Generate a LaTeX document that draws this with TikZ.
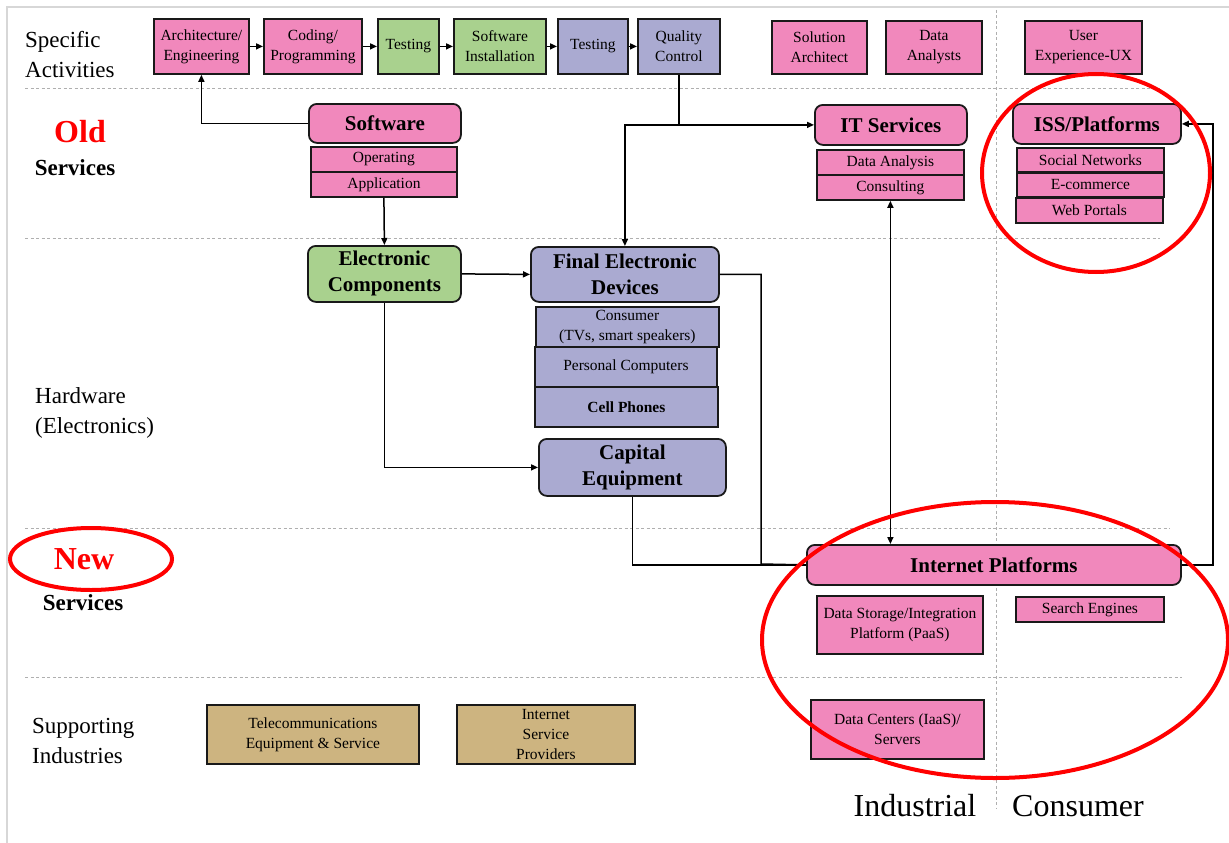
\documentclass[tikz,border=0pt]{standalone}
\usepackage{fontspec}
\setmainfont{Liberation Serif}
\usetikzlibrary{arrows.meta}
\definecolor{boxpink}{RGB}{241,136,188}
\definecolor{boxgreen}{RGB}{169,209,142}
\definecolor{boxpurple}{RGB}{170,170,209}
\definecolor{boxtan}{RGB}{205,180,128}
\definecolor{markred}{RGB}{255,0,0}
\definecolor{sepgray}{RGB}{175,175,175}
\definecolor{framegray}{RGB}{215,215,215}

\begin{document}
\begin{tikzpicture}[x=1pt,y=-1pt,
    box/.style={draw=black!90,line width=1.8pt,anchor=north west,align=center,inner sep=1pt,
      font=\fontsize{15.5}{20}\selectfont},
    rbox/.style={box,rounded corners=8pt,font=\bfseries\fontsize{21}{26}\selectfont},
    conn/.style={line width=1.5pt},
    arr/.style={conn,-{Triangle[length=7pt,width=6pt]}},
    sepline/.style={sepgray,line width=1pt,dash pattern=on 3pt off 2.5pt},
    ring/.style={markred,line width=4pt},
    rowlabel/.style={align=left,anchor=west,inner sep=0pt,font=\fontsize{23}{30}\selectfont}]
  \useasboundingbox (0,0) rectangle (1229,843);

  % frame and separators
  \draw[framegray,line width=2pt] (7,843) -- (7,7) -- (1229,7);
  \draw[sepline] (25,88) -- (1160,88);
  \draw[sepline] (25,238) -- (1160,238);
  \draw[sepline] (25,528) -- (1170,528);
  \draw[sepline] (25,677) -- (1182,677);
  \draw[sepline] (996,10) -- (996,808);

  % row labels
  \node[rowlabel] (specific) at (25,55) {Specific\\Activities};
  \node[font=\bfseries\fontsize{32}{36}\selectfont,text=markred] (old) at (80,132) {Old};
  \node[font=\bfseries\fontsize{23}{28}\selectfont] (oldserv) at (75,168) {Services};
  \node[rowlabel] (hardware) at (35,413) {Hardware\\(Electronics)};
  \node[font=\bfseries\fontsize{32}{36}\selectfont,text=markred] (new) at (84,559) {New};
  \node[font=\bfseries\fontsize{23}{28}\selectfont] (newserv) at (83,603) {Services};
  \node[rowlabel] (support) at (32,741) {Supporting\\Industries};
  \node[font=\fontsize{32}{36}\selectfont] (industrial) at (915,806) {Industrial};
  \node[font=\fontsize{32}{36}\selectfont] (consumerlbl) at (1078,806) {Consumer};

  % specific activities
  \node[box,fill=boxpink,minimum width=95,minimum height=55] (arch) at (153,18) {Architecture/\\Engineering};
  \node[box,fill=boxpink,minimum width=98,minimum height=55] (code) at (263,18) {Coding/\\Programming};
  \node[box,fill=boxgreen,minimum width=61,minimum height=55] (testa) at (377,18) {Testing};
  \node[box,fill=boxgreen,minimum width=92,minimum height=55] (inst) at (453,18) {Software\\Installation};
  \node[box,fill=boxpurple,minimum width=70,minimum height=55] (testb) at (557,18) {Testing};
  \node[box,fill=boxpurple,minimum width=82,minimum height=55] (qc) at (637,18) {Quality\\Control};
  \node[box,fill=boxpink,minimum width=95,minimum height=53] (solarch) at (771,20) {Solution\\Architect};
  \node[box,fill=boxpink,minimum width=96,minimum height=53] (danalysts) at (885,20) {Data\\Analysts};
  \node[box,fill=boxpink,minimum width=117,minimum height=53] (ux) at (1024,20) {User\\Experience-UX};

  % old services
  \node[rbox,fill=boxpink,minimum width=152,minimum height=39] (software) at (308,103) {Software};
  \node[box,fill=boxpink,minimum width=146,minimum height=25] (oper) at (310,146) {Operating};
  \node[box,fill=boxpink,minimum width=146,minimum height=25] (appl) at (310,171) {Application};
  \node[rbox,fill=boxpink,minimum width=152,minimum height=40] (itserv) at (814,104) {IT Services};
  \node[box,fill=boxpink,minimum width=147,minimum height=25] (dana) at (816,149) {Data Analysis};
  \node[box,fill=boxpink,minimum width=147,minimum height=25] (consult) at (816,174) {Consulting};
  \node[rbox,fill=boxpink,minimum width=168,minimum height=40] (iss) at (1012,103) {ISS/Platforms};
  \node[box,fill=boxpink,minimum width=147,minimum height=24] (social) at (1016,147) {Social Networks};
  \node[box,fill=boxpink,minimum width=147,minimum height=24] (ecom) at (1016,172) {E-commerce};
  \node[box,fill=boxpink,minimum width=147,minimum height=25] (web) at (1015,197) {Web Portals};

  % hardware
  \node[rbox,fill=boxgreen,minimum width=153,minimum height=56] (elec) at (307,245) {Electronic\\Components};
  \node[rbox,fill=boxpurple,minimum width=188,minimum height=55] (final) at (530,246) {Final Electronic\\Devices};
  \node[box,fill=boxpurple,minimum width=183,minimum height=40] (consumer) at (535,306) {Consumer\\(TVs, smart speakers)};
  \node[box,fill=boxpurple,minimum width=182,minimum height=40] (pc) at (534,346) {Personal Computers};
  \node[box,fill=boxpurple,minimum width=183,minimum height=40,font=\bfseries\fontsize{15.5}{20}\selectfont] (cell) at (534,386) {Cell Phones};
  \node[rbox,fill=boxpurple,minimum width=187,minimum height=57] (capital) at (538,438) {Capital\\Equipment};

  % new services
  \node[rbox,fill=boxpink,minimum width=374,minimum height=40] (inet) at (806,544) {Internet Platforms};
  \node[box,fill=boxpink,minimum width=166,minimum height=58] (paas) at (816,595) {Data Storage/Integration\\Platform (PaaS)};
  \node[box,fill=boxpink,minimum width=148,minimum height=25] (search) at (1015,596) {Search Engines};

  % supporting industries
  \node[box,fill=boxpink,minimum width=173,minimum height=59] (dcenter) at (810,699) {Data Centers (IaaS)/\\Servers};
  \node[box,fill=boxtan,minimum width=212,minimum height=59] (telecom) at (206,704) {Telecommunications\\Equipment \& Service};
  \node[box,fill=boxtan,minimum width=178,minimum height=59] (isp) at (456,704) {Internet\\Service\\Providers};

  % connectors
  \foreach \a/\b in {arch/code,code/testa,testa/inst,inst/testb,testb/qc}
    \draw[arr] (\a) -- (\b);
  \draw[arr] (software.west) -| (arch.south);
  \coordinate (qcj) at (qc.south |- itserv.west);
  \draw[conn] (qc.south) -- (qcj);
  \draw[arr] (qcj) -- (itserv.west);
  \draw[arr] (qcj) -| (final.north);
  \draw[arr] (appl.south) -- (elec.north);
  \draw[arr] (elec.east) -- (final.west);
  \draw[arr] (elec.south) |- (capital.west);
  \coordinate (fbend) at (761,564);
  \draw[conn] (final.east) -| (fbend) -- (inet.west);
  \draw[conn] (capital.south) |- (inet.west);
  \draw[conn,{Triangle[length=7pt,width=6pt]}-{Triangle[length=7pt,width=6pt]}] (consult.south) -- (consult.south |- inet.north);
  \coordinate (rbend) at (1213,0);
  \draw[arr] (inet.east) -| (rbend |- iss.east) -- (iss.east);

  % highlights
  \draw[ring] (91,559) ellipse [x radius=81, y radius=31];
  \draw[ring] (1096,173) ellipse [x radius=114, y radius=99];
  \draw[ring] (995,640) ellipse [x radius=233, y radius=138];
\end{tikzpicture}
\end{document}
